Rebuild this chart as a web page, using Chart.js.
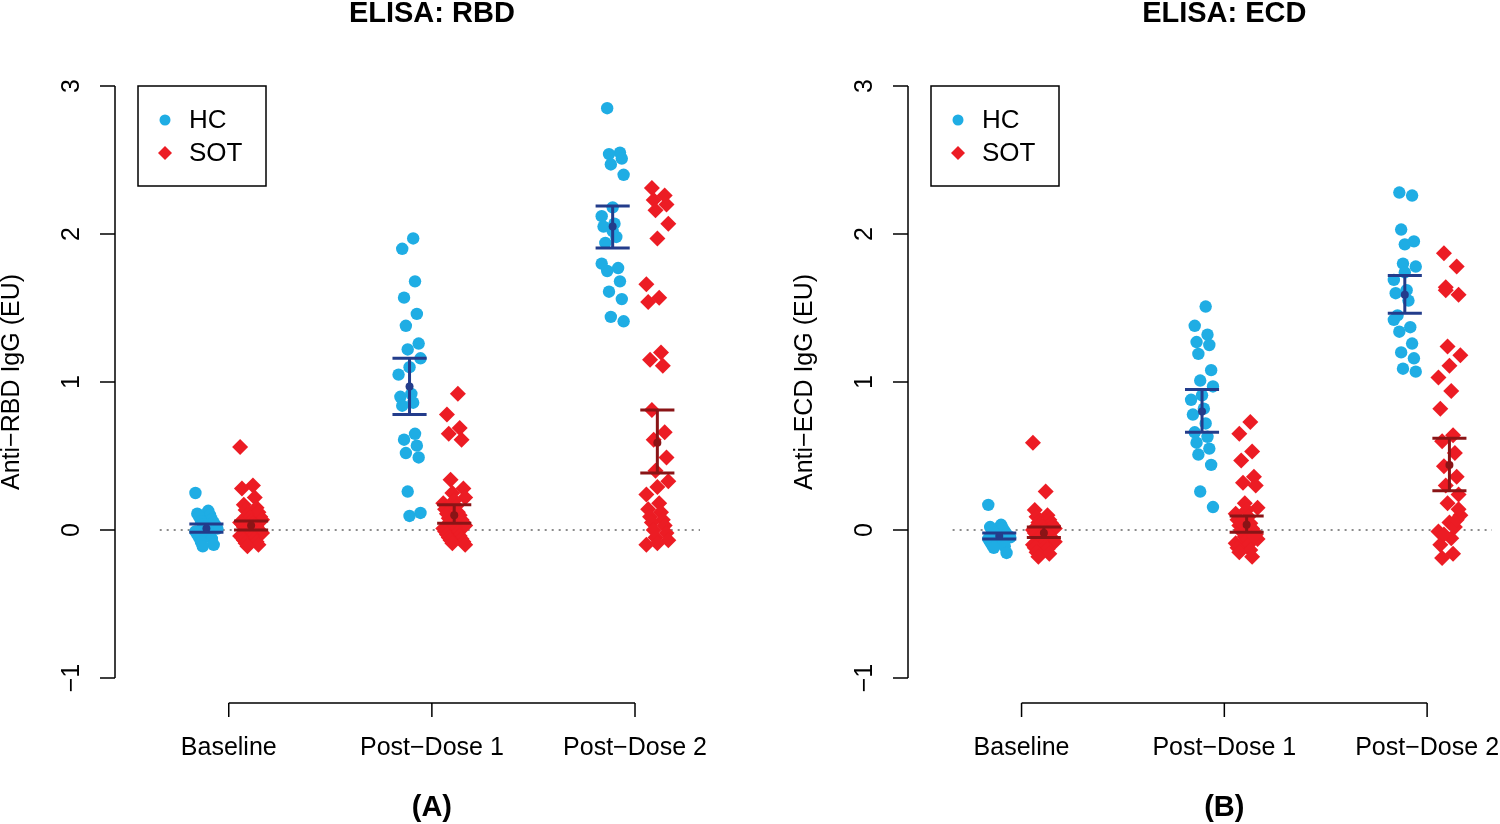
<!DOCTYPE html>
<html>
<head>
<meta charset="utf-8">
<script src="https://cdn.jsdelivr.net/npm/chart.js@4.4.1/dist/chart.umd.min.js"></script>
<style>
body { margin: 0; background: #fff; width: 1500px; height: 824px; overflow: hidden; position: relative; }
canvas { position: absolute; top: 0; }
</style>
</head>
<body>
<canvas id="chartA" width="750" height="824" style="left:0px"></canvas>
<canvas id="chartB" width="707" height="824" style="left:793px"></canvas>
<script>
// categories and ticks
var groups = ['Baseline', 'Post\u2212Dose 1', 'Post\u2212Dose 2'];
var yTicks = [-1, 0, 1, 2, 3];

// panel A : RBD
var hcRbd = [
    [0.25, 0.13, 0.11, 0.10, 0.09, 0.07, 0.06, 0.05, 0.04, 0.03, 0.02, 0.01, 0.0, -0.01, -0.02, -0.03, -0.04, -0.05, -0.06, -0.08, -0.10, -0.11],
    [1.97, 1.90, 1.68, 1.57, 1.46, 1.38, 1.26, 1.22, 1.16, 1.10, 1.05, 0.92, 0.90, 0.86, 0.84, 0.65, 0.61, 0.57, 0.52, 0.49, 0.26, 0.115, 0.095],
    [2.85, 2.55, 2.54, 2.51, 2.47, 2.40, 2.18, 2.12, 2.07, 2.05, 1.98, 1.94, 1.77, 1.75, 1.68, 1.61, 1.56, 1.44, 1.41, 2.02, 1.80]
];
var sotRbd = [
    [0.56, 0.30, 0.28, 0.22, 0.17, 0.15, 0.135, 0.12, 0.10, 0.09, 0.08, 0.07, 0.06, 0.05, 0.045, 0.04, 0.03, 0.02, 0.02, 0.01, 0.0, 0.0, -0.01, -0.02, -0.02, -0.03, -0.04, -0.045, -0.05, -0.06, -0.07, -0.08, -0.09, -0.10, -0.11],
    [0.92, 0.78, 0.69, 0.65, 0.61, 0.34, 0.28, 0.25, 0.22, 0.20, 0.18, 0.16, 0.14, 0.12, 0.11, 0.10, 0.08, 0.07, 0.06, 0.05, 0.04, 0.03, 0.02, 0.01, 0.0, -0.01, -0.02, -0.03, -0.04, -0.05, -0.06, -0.07, -0.08, -0.09, -0.10],
    [2.31, 2.26, 2.23, 2.20, 2.16, 2.07, 1.97, 1.66, 1.57, 1.54, 1.20, 1.15, 1.11, 0.81, 0.66, 0.61, 0.49, 0.40, 0.33, 0.29, 0.24, 0.18, 0.14, 0.12, 0.09, 0.07, 0.05, 0.03, 0.0, -0.02, -0.05, -0.07, -0.09, -0.10]
];
var hcRbdMean = [0.01, 0.97, 2.05];
var hcRbdLow = [-0.015, 0.78, 1.905];
var hcRbdHigh = [0.04, 1.16, 2.19];
var sotRbdMean = [0.03, 0.10, 0.59];
var sotRbdLow = [0.0, 0.045, 0.385];
var sotRbdHigh = [0.06, 0.17, 0.81];

// panel B : ECD
var hcEcd = [
    [0.17, 0.035, 0.02, 0.01, 0.0, -0.01, -0.02, -0.03, -0.03, -0.04, -0.045, -0.05, -0.06, -0.06, -0.07, -0.08, -0.09, -0.10, -0.11, -0.12, -0.155],
    [1.51, 1.38, 1.32, 1.27, 1.25, 1.19, 1.08, 1.01, 0.97, 0.91, 0.88, 0.82, 0.78, 0.72, 0.66, 0.63, 0.59, 0.55, 0.51, 0.44, 0.26, 0.155],
    [2.28, 2.26, 2.03, 1.95, 1.80, 1.78, 1.74, 1.69, 1.62, 1.60, 1.55, 1.45, 1.37, 1.34, 1.26, 1.20, 1.16, 1.09, 1.07, 1.93, 1.42]
];
var sotEcd = [
    [0.59, 0.26, 0.135, 0.10, 0.09, 0.07, 0.05, 0.045, 0.04, 0.03, 0.02, 0.01, 0.0, 0.0, -0.01, -0.02, -0.02, -0.03, -0.04, -0.045, -0.05, -0.05, -0.06, -0.07, -0.08, -0.09, -0.10, -0.11, -0.12, -0.13, -0.15, -0.16, -0.18],
    [0.73, 0.65, 0.53, 0.47, 0.36, 0.32, 0.30, 0.18, 0.15, 0.135, 0.11, 0.09, 0.07, 0.045, 0.03, 0.01, 0.0, -0.01, -0.02, -0.03, -0.045, -0.06, -0.07, -0.09, -0.10, -0.12, -0.135, -0.15, -0.18, 0.05, -0.04],
    [1.87, 1.78, 1.64, 1.59, 1.24, 1.18, 1.11, 1.03, 0.94, 0.82, 0.64, 0.60, 0.52, 0.43, 0.36, 0.30, 0.24, 0.18, 0.10, 0.05, -0.01, -0.055, -0.10, -0.16, -0.19, 0.02, -0.03, 0.07, 1.62, 0.14]
];
var hcEcdMean = [-0.04, 0.80, 1.59];
var hcEcdLow = [-0.06, 0.66, 1.465];
var hcEcdHigh = [-0.02, 0.95, 1.72];
var sotEcdMean = [-0.02, 0.035, 0.44];
var sotEcdLow = [-0.05, -0.015, 0.265];
var sotEcdHigh = [0.02, 0.095, 0.62];

const HC_COL = '#1fade4';
const SOT_COL = '#ec1c24';
const HC_BAR = '#233c8b';
const SOT_BAR = '#8a1416';
const FONT = '"Liberation Sans", Arial, Helvetica, sans-serif';

// fixed spread pattern for the strip chart (not random)
function jit(i) {
    return ((i * 7) % 13 - 6) * 0.009;
}

function puntos(vals, off) {
    var out = [];
    for (var g = 0; g < vals.length; g++) {
        for (var i = 0; i < vals[g].length; i++) {
            out.push({ x: g + 1 + off + jit(i + g * 3), y: vals[g][i] });
        }
    }
    return out;
}

const rPlot = {
    id: 'rPlot',
    beforeDatasetsDraw(chart, args, o) {
        const ctx = chart.ctx, xs = chart.scales.x, ys = chart.scales.y;
        ctx.save();
        ctx.strokeStyle = '#666';
        ctx.lineWidth = 1.5;
        ctx.setLineDash([2, 5]);
        ctx.beginPath();
        ctx.moveTo(xs.getPixelForValue(0.66), ys.getPixelForValue(0));
        ctx.lineTo(xs.getPixelForValue(xs.max), ys.getPixelForValue(0));
        ctx.stroke();
        ctx.restore();
    },
    afterDatasetsDraw(chart, args, o) {
        const ctx = chart.ctx, xs = chart.scales.x, ys = chart.scales.y, a = chart.chartArea;
        ctx.save();

        function barras(mean, low, high, off, col) {
            ctx.strokeStyle = col;
            ctx.fillStyle = col;
            ctx.lineWidth = 3;
            for (var g = 0; g < mean.length; g++) {
                var px = xs.getPixelForValue(g + 1 + off);
                var w = xs.getPixelForValue(g + 1 + off + 0.084) - px;
                var yl = ys.getPixelForValue(low[g]), yh = ys.getPixelForValue(high[g]);
                ctx.beginPath();
                ctx.moveTo(px, yl); ctx.lineTo(px, yh);
                ctx.moveTo(px - w, yl); ctx.lineTo(px + w, yl);
                ctx.moveTo(px - w, yh); ctx.lineTo(px + w, yh);
                ctx.stroke();
                ctx.beginPath();
                ctx.arc(px, ys.getPixelForValue(mean[g]), 4, 0, Math.PI * 2);
                ctx.fill();
            }
        }
        barras(o.hcMean, o.hcLow, o.hcHigh, -0.11, HC_BAR);
        barras(o.sotMean, o.sotLow, o.sotHigh, 0.11, SOT_BAR);

        // y axis, R style
        ctx.strokeStyle = '#000';
        ctx.fillStyle = '#000';
        ctx.lineWidth = 1.5;
        ctx.beginPath();
        ctx.moveTo(a.left, ys.getPixelForValue(yTicks[0]));
        ctx.lineTo(a.left, ys.getPixelForValue(yTicks[yTicks.length - 1]));
        yTicks.forEach(function (t) {
            var py = ys.getPixelForValue(t);
            ctx.moveTo(a.left, py); ctx.lineTo(a.left - 15, py);
        });
        ctx.stroke();
        ctx.font = '25px ' + FONT;
        ctx.textAlign = 'center';
        ctx.textBaseline = 'middle';
        yTicks.forEach(function (t) {
            var py = ys.getPixelForValue(t);
            ctx.save();
            ctx.translate(a.left - 43, py);
            ctx.rotate(-Math.PI / 2);
            ctx.fillText(t < 0 ? '\u2212' + Math.abs(t) : String(t), 0, 0);
            ctx.restore();
        });
        ctx.save();
        ctx.translate(12, (a.top + a.bottom) / 2);
        ctx.rotate(-Math.PI / 2);
        ctx.fillText(o.ylabel, 0, 0);
        ctx.restore();

        // x axis, R style
        var xa = a.bottom + 25;
        ctx.beginPath();
        ctx.moveTo(xs.getPixelForValue(1), xa);
        ctx.lineTo(xs.getPixelForValue(groups.length), xa);
        for (var g = 0; g < groups.length; g++) {
            var px = xs.getPixelForValue(g + 1);
            ctx.moveTo(px, xa); ctx.lineTo(px, xa + 14);
        }
        ctx.stroke();
        for (var g = 0; g < groups.length; g++) {
            ctx.fillText(groups[g], xs.getPixelForValue(g + 1), 748);
        }

        // titles
        var mid = xs.getPixelForValue(2);
        ctx.font = 'bold 29px ' + FONT;
        ctx.fillText(o.title, mid, 14);
        ctx.fillText(o.letter, mid, 808);

        // legend
        var lx = a.left + 23, ly = a.top;
        ctx.lineWidth = 1.5;
        ctx.strokeRect(lx, ly, 128, 100);
        ctx.fillStyle = HC_COL;
        ctx.beginPath();
        ctx.arc(lx + 27, ly + 34, 5.5, 0, Math.PI * 2);
        ctx.fill();
        ctx.fillStyle = SOT_COL;
        ctx.beginPath();
        ctx.moveTo(lx + 27, ly + 60); ctx.lineTo(lx + 34, ly + 67);
        ctx.lineTo(lx + 27, ly + 74); ctx.lineTo(lx + 20, ly + 67);
        ctx.closePath();
        ctx.fill();
        ctx.fillStyle = '#000';
        ctx.font = '26px ' + FONT;
        ctx.textAlign = 'left';
        ctx.fillText('HC', lx + 51, ly + 35);
        ctx.fillText('SOT', lx + 51, ly + 68);
        ctx.restore();
    }
};

function crear_panel(id, hc, sot, opts, rightPad) {
    return new Chart(document.getElementById(id), {
        type: 'scatter',
        data: {
            datasets: [
                { label: 'HC', data: puntos(hc, -0.11), pointStyle: 'circle', pointRadius: 6.2, backgroundColor: HC_COL, borderWidth: 0, clip: false },
                { label: 'SOT', data: puntos(sot, 0.11), pointStyle: 'rectRot', pointRadius: 8, backgroundColor: SOT_COL, borderWidth: 0, clip: false }
            ]
        },
        options: {
            responsive: false,
            animation: false,
            devicePixelRatio: 1,
            layout: { padding: { left: 115, right: rightPad, top: 86, bottom: 146 } },
            scales: {
                x: { type: 'linear', display: false, min: 0.44, max: 3.32 },
                y: { type: 'linear', display: false, min: -1, max: 3 }
            },
            plugins: {
                legend: { display: false },
                tooltip: { enabled: false },
                rPlot: opts
            }
        },
        plugins: [rPlot]
    });
}

crear_panel('chartA', hcRbd, sotRbd, {
    title: 'ELISA: RBD', letter: '(A)', ylabel: 'Anti\u2212RBD IgG (EU)',
    hcMean: hcRbdMean, hcLow: hcRbdLow, hcHigh: hcRbdHigh,
    sotMean: sotRbdMean, sotLow: sotRbdLow, sotHigh: sotRbdHigh
}, 50);

crear_panel('chartB', hcEcd, sotEcd, {
    title: 'ELISA: ECD', letter: '(B)', ylabel: 'Anti\u2212ECD IgG (EU)',
    hcMean: hcEcdMean, hcLow: hcEcdLow, hcHigh: hcEcdHigh,
    sotMean: sotEcdMean, sotLow: sotEcdLow, sotHigh: sotEcdHigh
}, 7);
</script>
</body>
</html>
